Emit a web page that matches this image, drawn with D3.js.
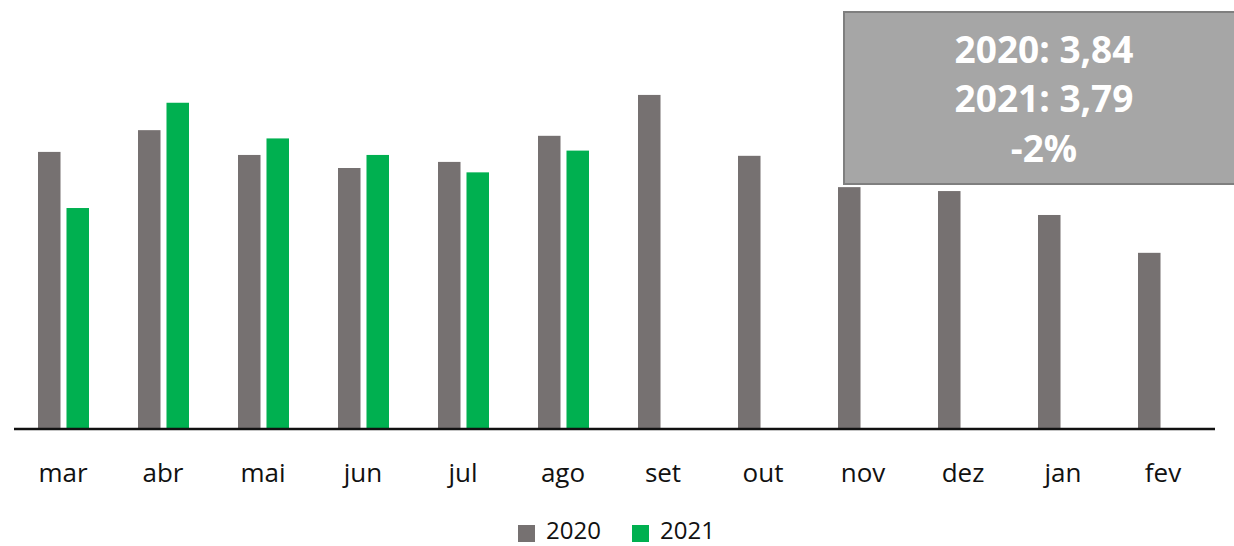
<!DOCTYPE html>
<html>
<head>
<meta charset="utf-8">
<script src="https://cdn.jsdelivr.net/npm/d3@7"></script>
<style>
  html, body { margin: 0; padding: 0; background: #fff; }
  svg { display: block; }
</style>
</head>
<body>
<svg id="chart" width="1234" height="546"></svg>
<script>
const months = ["mar","abr","mai","jun","jul","ago","set","out","nov","dez","jan","fev"];
const seriesNames = ["2020","2021"];
const values2020 = [0.637,0.687,0.630,0.600,0.614,0.674,0.768,0.628,0.556,0.547,0.492,0.405];
const values2021 = [0.508,0.750,0.668,0.630,0.590,0.640,null,null,null,null,null,null];
const colors = ["#767171","#00b050"];
const boxLines = ["2020: 3,84","2021: 3,79","-2%"];

const svg = d3.select("#chart");
const baseY = 429;

const x0 = d3.scaleBand().domain(months).range([13, 1213]).padding(0);
const x1 = d3.scaleBand().domain(seriesNames).range([25, 76]).paddingInner(0.21).paddingOuter(0);
const y = d3.scaleLinear().domain([0, 0.9]).range([baseY, baseY - 0.9 * 435]);

const data = months.map((m, i) => ({ month: m, vals: [values2020[i], values2021[i]] }));

const groups = svg.append("g").selectAll("g").data(data).join("g")
  .attr("transform", d => `translate(${x0(d.month)},0)`);

groups.selectAll("rect")
  .data(d => d.vals.map((v, j) => ({ key: seriesNames[j], v, j })).filter(e => e.v != null))
  .join("rect")
  .attr("x", e => x1(e.key))
  .attr("width", x1.bandwidth())
  .attr("y", e => y(e.v))
  .attr("height", e => y(0) - y(e.v))
  .attr("fill", e => colors[e.j]);

// axis
const xAxis = d3.axisBottom(x0).tickSize(0);
const ax = svg.append("g").attr("transform", `translate(0,${baseY})`).call(xAxis);
ax.select(".domain").attr("stroke", "#111").attr("stroke-width", 2.5)
  .attr("d", "M14,0H1215");
ax.selectAll("text")
  .attr("y", 53).attr("dy", 0)
  .attr("font-family", "'Open Sans', sans-serif")
  .attr("font-size", 26)
  .attr("fill", "#111");

// legend
const legend = svg.append("g");
const legItems = [{ name: "2020", x: 518 }, { name: "2021", x: 632 }];
legItems.forEach((it, i) => {
  legend.append("rect").attr("x", it.x).attr("y", 525).attr("width", 17).attr("height", 17).attr("fill", colors[i]);
  legend.append("text").attr("x", it.x + 28).attr("y", 539)
    .attr("font-family", "'Open Sans', sans-serif").attr("font-size", 24).attr("fill", "#111")
    .text(it.name);
});

// annotation box
svg.append("rect").attr("x", 844).attr("y", 12).attr("width", 392).attr("height", 172)
  .attr("fill", "#a6a6a6").attr("stroke", "#7f7f7f").attr("stroke-width", 2);
const baselines = [63, 112, 162];
boxLines.forEach((t, i) => {
  svg.append("text").attr("x", 1044).attr("y", baselines[i])
    .attr("text-anchor", "middle")
    .attr("font-family", "'Open Sans', sans-serif").attr("font-weight", "bold")
    .attr("font-size", 37).attr("fill", "#fff")
    .text(t);
});
</script>
</body>
</html>
